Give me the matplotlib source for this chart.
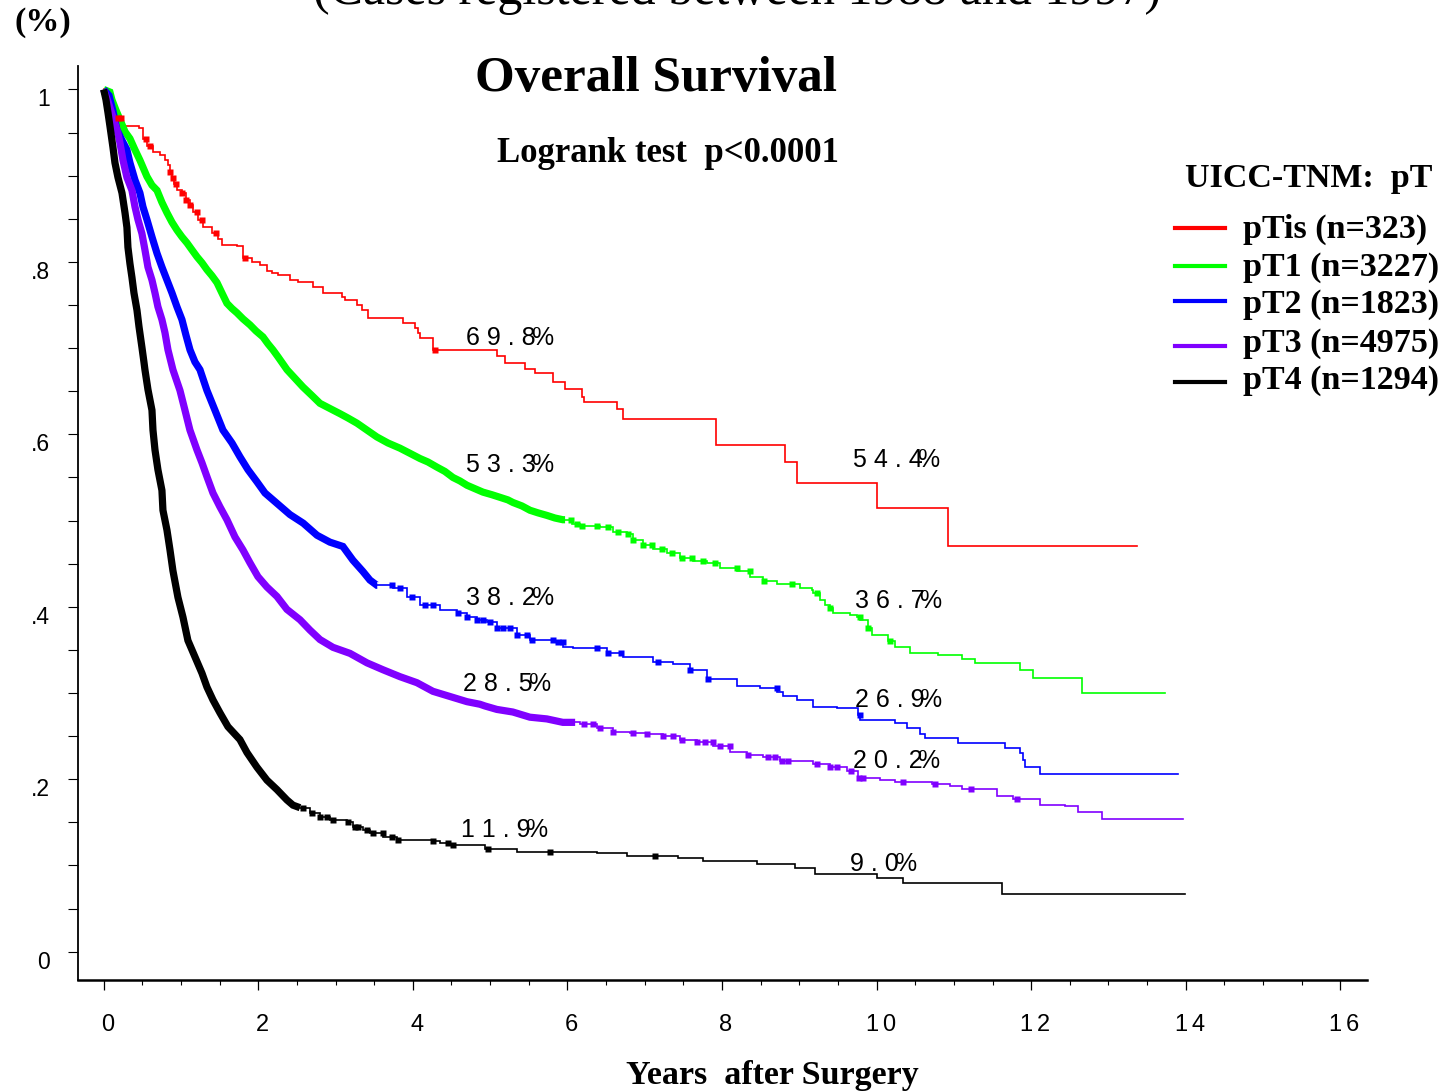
import numpy as np
import matplotlib
matplotlib.use("Agg")
import matplotlib.pyplot as plt
from matplotlib.transforms import ScaledTranslation
from matplotlib.lines import Line2D
from matplotlib.ticker import FixedLocator, MultipleLocator

# ---- Kaplan-Meier estimates: (years, survival) at each drop ----
groups = ["pTis", "pT1", "pT2", "pT3", "pT4"]
n_cases = [323, 3227, 1823, 4975, 1294]
colors = ["#ff0000", "#00ff00", "#0000ff", "#8000ff", "#000000"]

km_pTis = [(0, 1.0), (0.056, .988), (0.120, .976), (0.185, .967), (0.237, .958), (0.457, .955),
           (0.508, .943), (0.560, .935), (0.638, .927), (0.728, .924), (0.793, .918), (0.831, .912),
           (0.857, .904), (0.884, .897), (0.909, .890), (0.948, .883), (1.013, .880), (1.065, .872),
           (1.117, .866), (1.155, .858), (1.220, .849), (1.285, .840), (1.401, .833), (1.479, .827),
           (1.530, .820), (1.724, .819), (1.803, .805), (1.919, .800), (2.022, .796), (2.113, .790),
           (2.178, .787), (2.255, .785), (2.410, .779), (2.514, .777), (2.708, .771), (2.837, .764),
           (3.083, .759), (3.122, .756), (3.277, .750), (3.342, .744), (3.419, .735), (3.872, .729),
           (4.027, .723), (4.066, .717), (4.092, .712), (4.260, .698), (5.088, .691), (5.191, .683),
           (5.450, .676), (5.579, .671), (5.812, .661), (5.967, .653), (6.187, .643), (6.213, .637),
           (6.640, .629), (6.718, .618), (7.921, .588), (8.813, .568), (8.969, .544), (10.004, .515),
           (10.923, .470), (13.367, .470)]

km_pT1 = [(0, 1.0), (0.081, .997), (0.107, .988), (0.159, .976), (0.211, .965), (0.276, .951),
          (0.340, .943), (0.405, .930), (0.469, .918), (0.560, .899), (0.625, .889), (0.690, .883),
          (0.754, .869), (0.819, .857), (0.884, .846), (0.948, .837), (1.013, .829), (1.078, .822),
          (1.142, .814), (1.207, .806), (1.272, .799), (1.336, .791), (1.401, .784), (1.466, .776),
          (1.530, .764), (1.595, .752), (1.660, .746), (1.724, .741), (1.802, .734), (1.893, .727),
          (1.970, .720), (2.061, .713), (2.126, .705), (2.190, .698), (2.255, .690), (2.372, .675),
          (2.475, .665), (2.578, .655), (2.695, .645), (2.798, .636), (2.927, .630), (3.057, .624),
          (3.160, .619), (3.277, .613), (3.406, .605), (3.535, .597), (3.678, .590), (3.833, .584),
          (3.963, .578), (4.092, .572), (4.195, .568), (4.312, .562), (4.415, .557), (4.519, .550),
          (4.609, .546), (4.700, .541), (4.803, .537), (4.907, .533), (5.023, .530), (5.127, .527),
          (5.230, .524), (5.295, .521), (5.411, .517), (5.515, .512), (5.618, .509), (5.735, .506),
          (5.838, .503), (5.941, .501), (6.057, .496), (6.161, .494), (6.420, .492), (6.588, .487),
          (6.769, .484), (6.847, .478), (6.976, .472), (7.106, .467), (7.287, .462), (7.455, .457),
          (7.623, .453), (7.804, .451), (7.973, .445), (8.193, .441), (8.361, .434), (8.529, .430),
          (8.710, .426), (9.008, .422), (9.163, .419), (9.176, .416), (9.267, .408), (9.331, .402),
          (9.396, .399), (9.435, .393), (9.655, .390), (9.745, .388), (9.784, .385), (9.887, .375),
          (9.939, .367), (10.146, .360), (10.237, .353), (10.431, .347), (10.793, .344), (11.104, .339),
          (11.272, .335), (11.854, .327), (12.022, .317), (12.657, .300), (13.730, .300)]

km_pT2 = [(0, 1.0), (0.069, .993), (0.120, .975), (0.172, .953), (0.237, .941), (0.301, .930),
          (0.340, .915), (0.405, .895), (0.469, .880), (0.508, .864), (0.560, .849), (0.625, .829),
          (0.690, .810), (0.754, .794), (0.819, .779), (0.884, .764), (0.948, .748), (1.013, .733),
          (1.065, .715), (1.117, .698), (1.181, .684), (1.246, .675), (1.336, .651), (1.440, .628),
          (1.543, .605), (1.660, .590), (1.763, .574), (1.867, .559), (1.983, .545), (2.087, .532),
          (2.242, .520), (2.410, .507), (2.582, .497), (2.760, .483), (2.927, .475), (3.095, .470),
          (3.225, .454), (3.354, .441), (3.445, .431), (3.535, .425), (3.742, .422), (3.923, .411),
          (4.092, .402), (4.351, .396), (4.571, .393), (4.700, .388), (4.829, .385), (4.958, .382),
          (5.088, .376), (5.191, .375), (5.347, .367), (5.515, .361), (5.812, .359), (5.941, .353),
          (6.071, .352), (6.511, .346), (6.718, .342), (7.106, .336), (7.365, .334), (7.585, .327),
          (7.806, .316), (8.194, .308), (8.491, .306), (8.711, .301), (8.789, .297), (8.970, .292),
          (9.177, .284), (9.488, .283), (9.759, .275), (9.784, .269), (10.236, .265), (10.392, .259),
          (10.560, .253), (10.625, .248), (11.052, .242), (11.660, .236), (11.854, .231), (11.893, .222),
          (11.919, .214), (12.113, .206), (13.897, .206)]

km_pT3 = [(0, 1.0), (0.060, .985), (0.120, .968), (0.185, .949), (0.211, .938), (0.250, .918),
          (0.301, .898), (0.366, .883), (0.405, .864), (0.444, .849), (0.495, .833), (0.534, .814),
          (0.573, .794), (0.625, .779), (0.664, .764), (0.702, .748), (0.754, .733), (0.793, .718),
          (0.832, .698), (0.896, .675), (0.987, .651), (1.052, .628), (1.116, .605), (1.207, .582),
          (1.272, .567), (1.336, .551), (1.414, .532), (1.504, .516), (1.595, .501), (1.699, .481),
          (1.802, .466), (1.893, .451), (1.996, .435), (2.112, .423), (2.242, .412), (2.371, .397),
          (2.540, .385), (2.669, .373), (2.799, .362), (2.967, .353), (3.187, .346), (3.407, .335),
          (3.614, .327), (3.833, .319), (4.053, .312), (4.260, .302), (4.480, .296), (4.700, .290),
          (4.868, .287), (4.933, .285), (5.087, .281), (5.294, .278), (5.514, .272), (5.734, .270),
          (5.941, .266), (6.161, .264), (6.381, .259), (6.588, .255), (6.808, .254), (7.028, .252),
          (7.235, .250), (7.455, .245), (7.675, .243), (7.882, .239), (8.102, .232), (8.322, .228),
          (8.529, .226), (8.749, .221), (9.176, .218), (9.396, .214), (9.616, .210), (9.758, .202),
          (10.043, .199), (10.237, .197), (10.716, .194), (10.949, .192), (11.104, .189), (11.557, .181),
          (11.764, .177), (12.113, .170), (12.436, .169), (12.604, .162), (12.915, .154), (13.963, .154)]

km_pT4 = [(0, 1.0), (0.030, .988), (0.056, .973), (0.082, .957), (0.120, .933), (0.146, .915),
          (0.185, .898), (0.237, .880), (0.276, .857), (0.301, .840), (0.314, .817), (0.340, .798),
          (0.366, .782), (0.392, .764), (0.431, .744), (0.457, .725), (0.495, .701), (0.521, .684),
          (0.534, .675), (0.573, .652), (0.625, .628), (0.638, .605), (0.664, .582), (0.702, .559),
          (0.754, .535), (0.767, .512), (0.819, .489), (0.858, .466), (0.896, .442), (0.961, .411),
          (1.026, .388), (1.090, .361), (1.181, .342), (1.272, .323), (1.336, .307), (1.414, .292),
          (1.505, .277), (1.608, .261), (1.763, .246), (1.854, .231), (1.983, .214), (2.112, .199),
          (2.242, .188), (2.371, .176), (2.449, .170), (2.540, .167), (2.669, .161), (2.799, .156),
          (2.928, .153), (3.148, .150), (3.225, .145), (3.354, .141), (3.445, .138), (3.614, .133),
          (3.795, .130), (4.260, .128), (4.351, .126), (4.480, .124), (4.932, .119), (5.346, .116),
          (6.381, .114), (6.770, .111), (7.429, .109), (7.753, .105), (8.451, .102), (8.943, .097),
          (9.202, .090), (10.004, .086), (10.340, .080), (11.621, .067), (13.989, .067)]

# ---- censored observations (years) ----
# heavy censoring runs continuously up to dense_until; single marks afterwards
dense_until = [0.0, 5.97, 3.54, 6.10, 2.54]
cens_pTis = [0.185, 0.224, 0.547, 0.599, 0.857, 0.896, 0.935, 1.013, 1.065, 1.117, 1.207,
             1.272, 1.453, 1.828, 4.286]
cens_pT1 = [6.05, 6.12, 6.19, 6.38, 6.52, 6.65, 6.78, 6.85, 6.98, 7.09, 7.22, 7.35, 7.48,
            7.61, 7.75, 7.91, 8.19, 8.36, 8.54, 8.90, 9.23, 9.40, 9.78, 9.89, 10.18]
cens_pT2 = [3.73, 3.83, 3.99, 4.16, 4.26, 4.58, 4.70, 4.83, 4.91, 5.00, 5.09, 5.17, 5.26,
            5.35, 5.48, 5.54, 5.81, 5.88, 5.94, 6.38, 6.52, 6.69, 7.17, 7.59, 7.82, 8.71, 9.78]
cens_pT3 = [6.22, 6.33, 6.42, 6.59, 6.85, 7.03, 7.24, 7.37, 7.48, 7.68, 7.78, 7.88, 7.98,
            8.10, 8.34, 8.59, 8.69, 8.78, 8.85, 9.23, 9.40, 9.49, 9.67, 9.77, 9.82, 10.34,
            10.75, 11.22, 11.82]
cens_pT4 = [2.58, 2.69, 2.80, 2.89, 2.97, 3.16, 3.25, 3.29, 3.41, 3.48, 3.61, 3.73, 3.81,
            4.26, 4.45, 4.52, 4.97, 5.77, 7.13]

curves = [km_pTis, km_pT1, km_pT2, km_pT3, km_pT4]
censored = [cens_pTis, cens_pT1, cens_pT2, cens_pT3, cens_pT4]

# survival rates printed at 5 and 10 years
report_years = [5, 10]

x_major = [0, 2, 4, 6, 8, 10, 12, 14, 16]
y_labeled = [0.0, 0.2, 0.4, 0.6, 0.8, 1.0]

# ---- label placement (years, survival) ----
lab5_pos = [(4.69, .712), (4.69, .564), (4.69, .410), (4.65, .310), (4.62, .141)]
lab10_pos = [(9.69, .570), (9.72, .407), (9.72, .292), (9.69, .221), (9.66, .102)]

W, H = 1449, 1092
SERIF = ["Liberation Serif", "DejaVu Serif"]
SANS = ["Liberation Sans", "DejaVu Sans"]

fig = plt.figure(figsize=(W / 100, H / 100), dpi=100)
ax = fig.add_axes([78 / W, 1 - 980 / H, (1367 - 78) / W, (980 - 66) / H])
ax.set_xlim(-0.332, 16.345)
ax.set_ylim(-0.0328, 1.0272)


def fpos(x, y):
    return x / W, 1 - y / H


def surv_at(t, s, when):
    idx = np.searchsorted(t, np.asarray(when), side="right") - 1
    return s[idx]


for i in range(len(groups)):
    km = np.array(curves[i], dtype=float)
    t, s = km[:, 0], km[:, 1]
    c = colors[i]
    if dense_until[i] > 0:
        # stretch of continuous censoring marks: drawn as a solid band
        m = t <= dense_until[i]
        td = np.append(t[m], dense_until[i])
        sd = np.append(s[m], s[m][-1])
        ax.plot(td, sd, color=c, lw=5.2, solid_joinstyle="miter",
                solid_capstyle="butt", zorder=3)
        k = int(m.sum()) - 1
        tt_line = np.concatenate([[dense_until[i]], t[k + 1:]])
        ss_line = np.concatenate([[s[k]], s[k + 1:]])
    else:
        tt_line, ss_line = t, s
    ax.step(tt_line, ss_line, where="post", color=c, lw=1.2, solid_joinstyle="miter", zorder=3)
    cz = np.array(censored[i], dtype=float)
    ax.plot(cz, surv_at(t, s, cz), ls="none", marker="s", ms=5, mec="none", mfc=c, zorder=4)

    # printed survival rates
    for yr, (lx, ly) in zip(report_years, (lab5_pos[i], lab10_pos[i])):
        v = float(surv_at(t, s, yr))
        digits = " ".join(f"{v * 100:.1f}")
        tt = ax.text(lx, ly, digits, ha="left", va="center", fontsize=18, family=SANS, zorder=5)
        ax.annotate("%", xy=(1, 0), xycoords=tt, xytext=(-5, 0), textcoords="offset pixels",
                    ha="left", va="bottom", fontsize=18, family=SANS, zorder=5)

# ---- axes styling ----
for side in ("top", "right"):
    ax.spines[side].set_visible(False)
ax.spines["left"].set_linewidth(1.3)
ax.spines["bottom"].set_linewidth(1.8)

yt = np.round(np.arange(0, 1.0001, 0.05), 2)
ylabels = []
for v in yt:
    if any(abs(v - L) < 1e-9 for L in y_labeled):
        ylabels.append("0" if v == 0 else ("1" if v == 1 else f"{v:.1f}".lstrip("0")))
    else:
        ylabels.append("")
ax.yaxis.set_major_locator(FixedLocator(yt))
ax.set_yticklabels(ylabels)
ax.tick_params(axis="y", direction="out", length=7.5, width=0.8, pad=13,
               labelsize=16.5, labelfontfamily=SANS)

ax.xaxis.set_major_locator(FixedLocator(x_major))
ax.xaxis.set_minor_locator(MultipleLocator(0.5))
ax.set_xticklabels(["\u2006".join(str(v)) for v in x_major])
ax.tick_params(axis="x", which="major", direction="out", length=7.2, width=0.9, pad=17,
               labelsize=17, labelfontfamily=SANS)
ax.tick_params(axis="x", which="minor", direction="out", length=3.6, width=0.8)

dn = ScaledTranslation(0, -8 / 100, fig.dpi_scale_trans)
for lb in ax.get_yticklabels():
    lb.set_transform(lb.get_transform() + dn)
rt = ScaledTranslation(4 / 100, 0, fig.dpi_scale_trans)
for lb in ax.get_xticklabels():
    lb.set_transform(lb.get_transform() + rt)

# ---- titles and axis captions ----
fig.text(*fpos(737, 4), "(Cases registered between 1988 and 1997)", ha="center", va="baseline",
         fontsize=36, family=SERIF)
fig.text(*fpos(15, 31), "(%)", ha="left", va="baseline", fontsize=24.5, weight="bold", family=SERIF)
fig.text(*fpos(656, 91), "Overall Survival", ha="center", va="baseline", fontsize=36.8,
         weight="bold", family=SERIF)
fig.text(*fpos(668, 162), "Logrank test  p<0.0001", ha="center", va="baseline", fontsize=25,
         weight="bold", family=SERIF)
fig.text(*fpos(772, 1084), "Years  after Surgery", ha="center", va="baseline", fontsize=24.5,
         weight="bold", family=SERIF)

# ---- legend ----
fig.text(*fpos(1185, 187), "UICC-TNM:  pT", ha="left", va="baseline", fontsize=24.5,
         weight="bold", family=SERIF)
line_y = [228, 266, 301, 346, 382]
text_y = [238, 276, 313, 352, 389]
for i in range(len(groups)):
    x0, y0 = fpos(1175, line_y[i])
    x1, _ = fpos(1225, line_y[i])
    fig.add_artist(Line2D([x0, x1], [y0, y0], transform=fig.transFigure, color=colors[i], lw=3))
    fig.text(*fpos(1243, text_y[i]), f"{groups[i]} (n={n_cases[i]})", ha="left", va="baseline",
             fontsize=24.5, weight="bold", family=SERIF)

fig.savefig("out.png", dpi=100)
